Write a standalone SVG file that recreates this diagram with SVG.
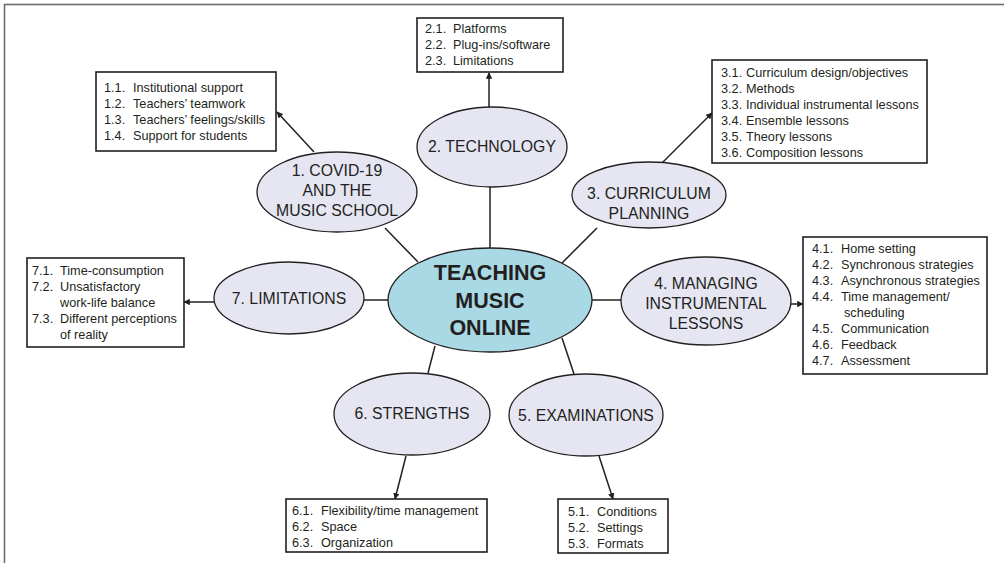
<svg xmlns="http://www.w3.org/2000/svg" width="1004" height="563" viewBox="0 0 1004 563">
<defs>
<style>
.frame{fill:none;stroke:#6d6e70;stroke-width:1.6}
.el{fill:#e6e6f3;stroke:#231f20;stroke-width:1.3}
.center{fill:#a9d9e5;stroke:#231f20;stroke-width:1.3}
.box{fill:#fff;stroke:#231f20;stroke-width:1.6}
.et{font-family:"Liberation Sans",Arial,sans-serif;font-size:15.8px;fill:#231f20;text-anchor:middle}
.ct{font-family:"Liberation Sans",Arial,sans-serif;font-size:21.5px;font-weight:bold;fill:#231f20;text-anchor:middle}
.bt{font-family:"Liberation Sans",Arial,sans-serif;font-size:12.7px;fill:#231f20}
.ln{stroke:#231f20;stroke-width:1.5;fill:none}
.ar{stroke:#231f20;stroke-width:1.5;fill:none;marker-end:url(#ah)}
</style>
<marker id="ah" viewBox="0 0 10 10" refX="9" refY="5" markerWidth="4.3" markerHeight="4.3" orient="auto" markerUnits="strokeWidth">
<path d="M0,0 L10,5 L0,10 z" fill="#231f20"/>
</marker>
</defs>
<rect width="1004" height="563" fill="#fff"/>
<rect class="frame" x="4.5" y="4.5" width="1010" height="570"/>

<g id="connectors">
<line class="ln" x1="385" y1="228" x2="418" y2="262"/>
<line class="ln" x1="490" y1="187" x2="490" y2="248"/>
<line class="ln" x1="597" y1="228" x2="562" y2="263"/>
<line class="ln" x1="592" y1="300" x2="622" y2="300"/>
<line class="ln" x1="562" y1="338" x2="574" y2="374"/>
<line class="ln" x1="435" y1="346" x2="428" y2="373"/>
<line class="ln" x1="364" y1="300" x2="388" y2="300"/>
<line class="ar" x1="314" y1="152" x2="277" y2="112"/>
<line class="ar" x1="489" y1="107" x2="489" y2="73"/>
<line class="ar" x1="662" y1="163" x2="712" y2="113"/>
<line class="ar" x1="791" y1="304" x2="803" y2="304"/>
<line class="ar" x1="599" y1="456" x2="613" y2="499"/>
<line class="ar" x1="406" y1="456" x2="395" y2="499"/>
<line class="ar" x1="214" y1="302" x2="184" y2="302"/>
</g>

<g id="center">
<ellipse class="center" cx="490" cy="300" rx="102" ry="52"/>
<text class="ct" x="490" y="280">TEACHING</text>
<text class="ct" x="490" y="307.5">MUSIC</text>
<text class="ct" x="490" y="335">ONLINE</text>
</g>

<g id="node1">
<ellipse class="el" cx="337" cy="192" rx="80" ry="40"/>
<text class="et" x="337" y="176">1. COVID-19</text>
<text class="et" x="337" y="196">AND THE</text>
<text class="et" x="337" y="216">MUSIC SCHOOL</text>
</g>
<g id="node2">
<ellipse class="el" cx="492" cy="147" rx="75" ry="40"/>
<text class="et" x="492" y="152">2. TECHNOLOGY</text>
</g>
<g id="node3">
<ellipse class="el" cx="649" cy="195" rx="77" ry="33"/>
<text class="et" x="649" y="199">3. CURRICULUM</text>
<text class="et" x="649" y="219">PLANNING</text>
</g>
<g id="node4">
<ellipse class="el" cx="706" cy="301" rx="85" ry="44"/>
<text class="et" x="706" y="289">4. MANAGING</text>
<text class="et" x="706" y="309">INSTRUMENTAL</text>
<text class="et" x="706" y="329">LESSONS</text>
</g>
<g id="node5">
<ellipse class="el" cx="586" cy="415" rx="77" ry="41"/>
<text class="et" x="586" y="421">5. EXAMINATIONS</text>
</g>
<g id="node6">
<ellipse class="el" cx="412" cy="414" rx="78" ry="41"/>
<text class="et" x="412" y="419">6. STRENGTHS</text>
</g>
<g id="node7">
<ellipse class="el" cx="289" cy="298" rx="75" ry="36"/>
<text class="et" x="289" y="304">7. LIMITATIONS</text>
</g>

<g id="box1">
<rect class="box" x="96" y="72" width="180" height="79"/>
<text class="bt" y="92"><tspan x="104">1.1.</tspan><tspan x="133">Institutional support</tspan></text>
<text class="bt" y="108"><tspan x="104">1.2.</tspan><tspan x="133">Teachers’ teamwork</tspan></text>
<text class="bt" y="124"><tspan x="104">1.3.</tspan><tspan x="133">Teachers’ feelings/skills</tspan></text>
<text class="bt" y="140"><tspan x="104">1.4.</tspan><tspan x="133">Support for students</tspan></text>
</g>
<g id="box2">
<rect class="box" x="417" y="18" width="146" height="54"/>
<text class="bt" y="33"><tspan x="425">2.1.</tspan><tspan x="453">Platforms</tspan></text>
<text class="bt" y="49"><tspan x="425">2.2.</tspan><tspan x="453">Plug-ins/software</tspan></text>
<text class="bt" y="65"><tspan x="425">2.3.</tspan><tspan x="453">Limitations</tspan></text>
</g>
<g id="box3">
<rect class="box" x="712" y="60" width="215" height="103"/>
<text class="bt" y="77"><tspan x="721">3.1.</tspan><tspan x="746">Curriculum design/objectives</tspan></text>
<text class="bt" y="93"><tspan x="721">3.2.</tspan><tspan x="746">Methods</tspan></text>
<text class="bt" y="109"><tspan x="721">3.3.</tspan><tspan x="746">Individual instrumental lessons</tspan></text>
<text class="bt" y="125"><tspan x="721">3.4.</tspan><tspan x="746">Ensemble lessons</tspan></text>
<text class="bt" y="141"><tspan x="721">3.5.</tspan><tspan x="746">Theory lessons</tspan></text>
<text class="bt" y="157"><tspan x="721">3.6.</tspan><tspan x="746">Composition lessons</tspan></text>
</g>
<g id="box4">
<rect class="box" x="803" y="237" width="184" height="137"/>
<text class="bt" y="253"><tspan x="812">4.1.</tspan><tspan x="841">Home setting</tspan></text>
<text class="bt" y="269"><tspan x="812">4.2.</tspan><tspan x="841">Synchronous strategies</tspan></text>
<text class="bt" y="285"><tspan x="812">4.3.</tspan><tspan x="841">Asynchronous strategies</tspan></text>
<text class="bt" y="301"><tspan x="812">4.4.</tspan><tspan x="841">Time management/</tspan></text>
<text class="bt" y="317"><tspan x="844">scheduling</tspan></text>
<text class="bt" y="333"><tspan x="812">4.5.</tspan><tspan x="841">Communication</tspan></text>
<text class="bt" y="349"><tspan x="812">4.6.</tspan><tspan x="841">Feedback</tspan></text>
<text class="bt" y="365"><tspan x="812">4.7.</tspan><tspan x="841">Assessment</tspan></text>
</g>
<g id="box5">
<rect class="box" x="558" y="499" width="110" height="54"/>
<text class="bt" y="516"><tspan x="568">5.1.</tspan><tspan x="597">Conditions</tspan></text>
<text class="bt" y="532"><tspan x="568">5.2.</tspan><tspan x="597">Settings</tspan></text>
<text class="bt" y="548"><tspan x="568">5.3.</tspan><tspan x="597">Formats</tspan></text>
</g>
<g id="box6">
<rect class="box" x="286" y="499" width="201" height="53"/>
<text class="bt" y="515"><tspan x="292">6.1.</tspan><tspan x="321">Flexibility/time management</tspan></text>
<text class="bt" y="531"><tspan x="292">6.2.</tspan><tspan x="321">Space</tspan></text>
<text class="bt" y="547"><tspan x="292">6.3.</tspan><tspan x="321">Organization</tspan></text>
</g>
<g id="box7">
<rect class="box" x="27" y="258" width="157" height="89"/>
<text class="bt" y="275"><tspan x="32">7.1.</tspan><tspan x="60">Time-consumption</tspan></text>
<text class="bt" y="291"><tspan x="32">7.2.</tspan><tspan x="60">Unsatisfactory</tspan></text>
<text class="bt" y="307"><tspan x="60">work-life balance</tspan></text>
<text class="bt" y="323"><tspan x="32">7.3.</tspan><tspan x="60">Different perceptions</tspan></text>
<text class="bt" y="339"><tspan x="60">of reality</tspan></text>
</g>
</svg>
